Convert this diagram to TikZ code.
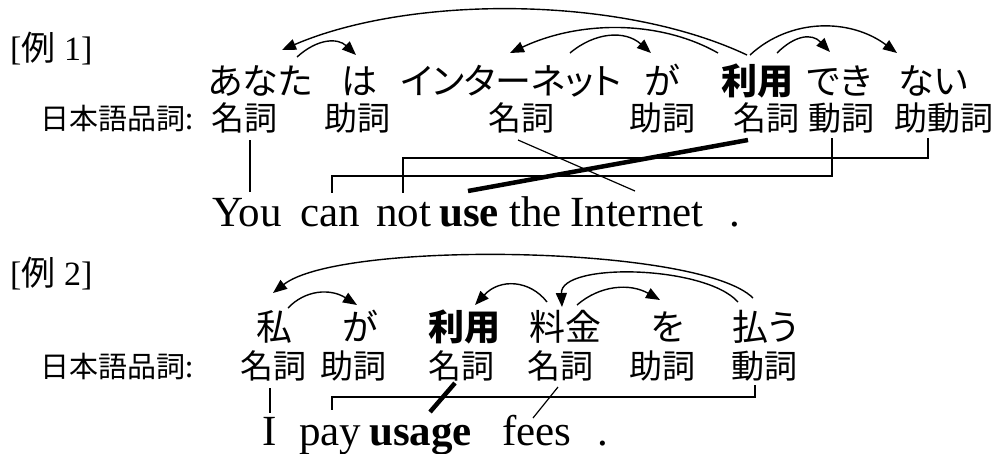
\documentclass[tikz,border=0pt]{standalone}
\usepackage{fontspec}
\setmainfont{Liberation Serif}
\newfontfamily\jpfam{Noto Sans CJK JP}
\newfontfamily\jpwfam[RawFeature=+palt]{Noto Sans CJK JP}
\usetikzlibrary{arrows.meta}
\newcommand\jwfont{\jpwfam\fontsize{36}{36}\selectfont}
\newcommand\jpfont{\jpfam\fontsize{33}{33}\selectfont}
\newcommand\jlfont{\jpfam\fontsize{29}{29}\selectfont}
\newcommand\enfont{\fontsize{43}{43}\selectfont}
\newcommand\exfont{\fontsize{34}{34}\selectfont}
\begin{document}
\begin{tikzpicture}[x=1pt,y=-1pt,
  jword/.style={anchor=base,inner sep=0pt,font=\jwfont},
  jpos/.style={anchor=base,inner sep=0pt,font=\jpfont},
  jlabel/.style={anchor=base west,inner sep=0pt,font=\jlfont},
  enword/.style={anchor=base west,inner sep=0pt,font=\enfont},
  exlabel/.style={anchor=base west,inner sep=0pt,font=\exfont},
  dep/.style={line width=1.4pt,-{Triangle[length=14pt,width=11pt]}},
  align/.style={line width=1.2pt},
  alignb/.style={line width=4.5pt}]
\useasboundingbox (0,0) rectangle (994,453);

% ---------- Example 1 ----------
\node[exlabel] (ex1) at (10,60) {[{\jpfam 例} 1]};
\node[jword] (w1) at (260,94) {あなた};
\node[jword] (w2) at (359,94) {は};
\node[jword] (w3) at (511,94) {インターネット};
\node[jword] (w4) at (662,94) {が};
\node[jword,font=\jwfont\bfseries] (w5) at (757,94) {利用};
\node[jword] (w6) at (839,94) {でき};
\node[jword] (w7) at (933,94) {ない};

\node[jlabel] (l1) at (40,129) {日本語品詞:};
\node[jpos] (p1) at (244,130) {名詞};
\node[jpos] (p2) at (357,130) {助詞};
\node[jpos] (p3) at (521,130) {名詞};
\node[jpos] (p4) at (662,130) {助詞};
\node[jpos] (p5) at (766,130) {名詞};
\node[jpos] (p6) at (841,130) {動詞};
\node[jpos] (p7) at (944,130) {助動詞};

\node[enword] (e1) at (212,226) {You};
\node[enword] (e2) at (300,226) {can};
\node[enword] (e3) at (376,226) {not};
\node[enword,font=\enfont\bfseries] (e4) at (439,226) {use};
\node[enword] (e5) at (509,226) {the};
\node[enword] (e6) at (570,226) {Internet};
\node[enword] (e7) at (729,226) {.};

% arc endpoints
\coordinate (a1s) at (747,55);  \coordinate (a1e) at (282,50);
\coordinate (a2s) at (297,57);  \coordinate (a2e) at (356,55);
\coordinate (a3s) at (718,53);  \coordinate (a3e) at (510,53);
\coordinate (a4s) at (570,53);  \coordinate (a4e) at (651,53);
\coordinate (a5s) at (777,53);  \coordinate (a5e) at (830,52);
\coordinate (a6s) at (750,55);  \coordinate (a6e) at (897,53);
\draw[dep] (a1s) .. controls (620,-5) and (410,-5) .. (a1e);
\draw[dep] (a2s) .. controls (318,38) and (338,38) .. (a2e);
\draw[dep] (a3s) .. controls (660,20) and (580,20) .. (a3e);
\draw[dep] (a4s) .. controls (595,32) and (625,30) .. (a4e);
\draw[dep] (a5s) .. controls (795,35) and (812,33) .. (a5e);
\draw[dep] (a6s) .. controls (790,18) and (850,18) .. (a6e);

% alignment endpoints
\coordinate (k1a) at (250,140); \coordinate (k1b) at (250,192);
\coordinate (k2a) at (832,138); \coordinate (k2b) at (332,193);
\coordinate (k3a) at (928,138); \coordinate (k3b) at (403,193);
\coordinate (k4a) at (748,140); \coordinate (k4b) at (468,191);
\coordinate (k5a) at (518,140); \coordinate (k5b) at (635,191);
\draw[align] (k1a) -- (k1b);
\draw[align] (k2a) -- (832,176) -- (332,176) -- (k2b);
\draw[align] (k3a) -- (928,158) -- (403,158) -- (k3b);
\draw[alignb] (k4a) -- (k4b);
\draw[align] (k5a) -- (k5b);

% ---------- Example 2 ----------
\node[exlabel] (ex2) at (10,285) {[{\jpfam 例} 2]};
\node[jword] (v1) at (274,340) {私};
\node[jword] (v2) at (360,340) {が};
\node[jword,font=\jwfont\bfseries] (v3) at (464,340) {利用};
\node[jword] (v4) at (565,340) {料金};
\node[jword] (v5) at (668,340) {を};
\node[jword] (v6) at (765,340) {払う};

\node[jlabel] (l2) at (40,377) {日本語品詞:};
\node[jpos] (q1) at (273,378) {名詞};
\node[jpos] (q2) at (353,378) {助詞};
\node[jpos] (q3) at (461,378) {名詞};
\node[jpos] (q4) at (560,378) {名詞};
\node[jpos] (q5) at (662,378) {助詞};
\node[jpos] (q6) at (764,378) {動詞};

\node[enword] (f1) at (262,445) {I};
\node[enword] (f2) at (299,445) {pay};
\node[enword,font=\enfont\bfseries] (f3) at (369,445) {usage};
\node[enword] (f4) at (502,445) {fees};
\node[enword] (f5) at (597,445) {.};

\coordinate (b1s) at (753,298); \coordinate (b1e) at (273,293);
\coordinate (b2s) at (288,308); \coordinate (b2e) at (357,305);
\coordinate (b3s) at (547,302); \coordinate (b3e) at (475,305);
\coordinate (b4s) at (738,302); \coordinate (b4e) at (562,307);
\coordinate (b5s) at (577,305); \coordinate (b5e) at (660,300);
\draw[dep] (b1s) .. controls (700,245) and (340,240) .. (b1e);
\draw[dep] (b2s) .. controls (305,290) and (330,288) .. (b2e);
\draw[dep] (b3s) .. controls (530,280) and (500,278) .. (b3e);
\draw[dep] (b4s) .. controls (705,265) and (560,262) .. (b4e);
\draw[dep] (b5s) .. controls (600,285) and (630,283) .. (b5e);

\coordinate (m1a) at (270,388); \coordinate (m1b) at (270,413);
\coordinate (m2a) at (755,385); \coordinate (m2b) at (332,410);
\coordinate (m3a) at (455,383); \coordinate (m3b) at (430,412);
\coordinate (m4a) at (558,387); \coordinate (m4b) at (533,418);
\draw[align] (m1a) -- (m1b);
\draw[align] (m2a) -- (755,397) -- (332,397) -- (m2b);
\draw[alignb] (m3a) -- (m3b);
\draw[align] (m4a) -- (m4b);
\end{tikzpicture}
\end{document}
